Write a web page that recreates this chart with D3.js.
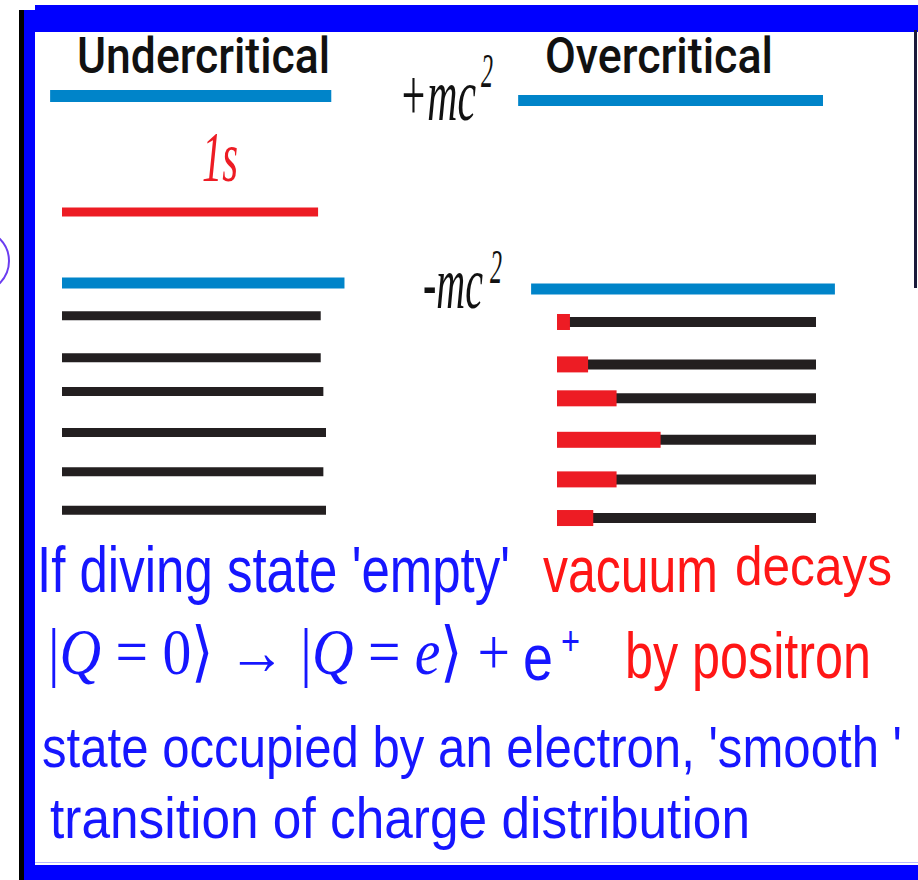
<!DOCTYPE html>
<html>
<head>
<meta charset="utf-8">
<title>Undercritical / Overcritical</title>
<script src="https://cdn.jsdelivr.net/npm/d3@7"></script>
<style>
  body { margin:0; background:#fff; }
  svg { display:block; }
</style>
</head>
<body>
<script>
// energies in units of mc^2
var boundNames = ["+mc2", "1s", "-mc2"];
var boundEnergy = [1, -0.24, -1];
var continuum = [-1.35, -1.80, -2.16, -2.60, -3.02, -3.43];
// right end of each undercritical continuum line (fraction of panel width)
var underEnds = [0.98, 0.98, 0.99, 1, 0.99, 1];
// part of each overcritical continuum line taken by positrons (red)
var positronFill = [0.05, 0.12, 0.23, 0.40, 0.23, 0.14];

var panelTitles = ["Undercritical", "Overcritical"];

var width = 918, height = 880;
var blue = "#0084c9", red = "#ed1c24", black = "#231f20",
    frameBlue = "#0000ff", textBlue = "#1616ff", textRed = "#ff1616";

var svg = d3.select("body").append("svg")
    .attr("width", width)
    .attr("height", height);

// frame
svg.append("circle").attr("cx", -22).attr("cy", 261).attr("r", 31)
    .attr("fill", "none").attr("stroke", "#6b3cf0").attr("stroke-width", 2);
svg.append("rect").attr("x", 19).attr("y", 10).attr("width", 5).attr("height", 870).attr("fill", "#000");
svg.append("rect").attr("x", 24).attr("y", 10).attr("width", 11).attr("height", 870).attr("fill", frameBlue);
svg.append("rect").attr("x", 35).attr("y", 5).attr("width", 883).attr("height", 27).attr("fill", frameBlue);
svg.append("rect").attr("x", 24).attr("y", 865).attr("width", 894).attr("height", 15).attr("fill", frameBlue);
svg.append("line").attr("x1", 35).attr("x2", 918).attr("y1", 862.5).attr("y2", 862.5)
    .attr("stroke", "#b8b8ff").attr("stroke-width", 1);
svg.append("line").attr("x1", 915.5).attr("x2", 915.5).attr("y1", 30).attr("y2", 288)
    .attr("stroke", "#1a1a3a").attr("stroke-width", 3);

// scales
var yL = d3.scaleLinear().domain([1, -1]).range([96, 283]);
var yR = d3.scaleLinear().domain([1, -1]).range([100.5, 289]);
var xL = d3.scaleLinear().domain([0, 1]).range([62, 326]);
var xR = d3.scaleLinear().domain([0, 1]).range([557, 816]);

function textFit(x, y, str, size, len, color, opts) {
  opts = opts || {};
  return svg.append("text")
      .attr("x", x).attr("y", y)
      .attr("font-family", opts.family || "'Liberation Sans', Arial, sans-serif")
      .attr("font-size", size)
      .attr("font-style", opts.italic ? "italic" : null)
      .attr("font-weight", opts.weight || null)
      .attr("fill", color)
      .attr("textLength", len)
      .attr("lengthAdjust", "spacingAndGlyphs")
      .text(str);
}

// titles
textFit(77, 73, panelTitles[0], 50, 253, "#111", {family: "Roboto, sans-serif", weight: 500});
textFit(545, 73, panelTitles[1], 50, 228, "#111", {family: "Roboto, sans-serif", weight: 500});

// undercritical bound levels
var underSpan = {"+mc2": [-0.045, 1.02], "1s": [0, 0.97], "-mc2": [0, 1.07]};
var underStyle = {"+mc2": [blue, 12], "1s": [red, 9], "-mc2": [blue, 11]};
svg.selectAll(".lvlL").data(boundNames).enter().append("line")
    .attr("class", "lvlL")
    .attr("x1", function(d) { return xL(underSpan[d][0]); })
    .attr("x2", function(d) { return xL(underSpan[d][1]); })
    .attr("y1", function(d, i) { return yL(boundEnergy[i]); })
    .attr("y2", function(d, i) { return yL(boundEnergy[i]); })
    .attr("stroke", function(d) { return underStyle[d][0]; })
    .attr("stroke-width", function(d) { return underStyle[d][1]; });

textFit(202, 181, "1s", 72, 36, red, {family: "'Liberation Serif', serif", italic: true});

// undercritical continuum
svg.selectAll(".contL").data(continuum).enter().append("line")
    .attr("class", "contL")
    .attr("x1", xL(0))
    .attr("x2", function(d, i) { return xL(underEnds[i]); })
    .attr("y1", function(d) { return yL(d); })
    .attr("y2", function(d) { return yL(d); })
    .attr("stroke", black).attr("stroke-width", 9);

// overcritical: only the two mc^2 edges
var overNames = [boundNames[0], boundNames[2]];
var overEnergy = [boundEnergy[0], boundEnergy[2]];
var overSpan = {"+mc2": [-0.15, 1.027], "-mc2": [-0.10, 1.073]};
svg.selectAll(".lvlR").data(overNames).enter().append("line")
    .attr("class", "lvlR")
    .attr("x1", function(d) { return xR(overSpan[d][0]); })
    .attr("x2", function(d) { return xR(overSpan[d][1]); })
    .attr("y1", function(d, i) { return yR(overEnergy[i]); })
    .attr("y2", function(d, i) { return yR(overEnergy[i]); })
    .attr("stroke", blue).attr("stroke-width", 11);

svg.selectAll(".contR").data(continuum).enter().append("line")
    .attr("class", "contR")
    .attr("x1", xR(0)).attr("x2", xR(1))
    .attr("y1", function(d) { return yR(d); })
    .attr("y2", function(d) { return yR(d); })
    .attr("stroke", black).attr("stroke-width", 10);

svg.selectAll(".hole").data(continuum).enter().append("rect")
    .attr("class", "hole")
    .attr("x", xR(0))
    .attr("y", function(d) { return yR(d) - 8; })
    .attr("width", function(d, i) { return xR(positronFill[i]) - xR(0); })
    .attr("height", 16)
    .attr("fill", red);

// mc^2 labels
var serif = "'Liberation Serif', 'Times New Roman', serif";
textFit(399, yR(1) + 19.5, "+mc", 74, 77, "#111", {family: serif, italic: true});
textFit(481, yR(1) - 13.5, "2", 48, 12, "#111", {family: serif, italic: true});
textFit(423, yR(-1) + 19, "-mc", 74, 60, "#111", {family: serif, italic: true});
textFit(490, yR(-1) - 6, "2", 48, 12, "#111", {family: serif, italic: true});

// explanation text
textFit(37, 592, "If diving state 'empty'", 64, 473, textBlue);
textFit(543, 592, "vacuum", 64, 175, textRed);
textFit(735, 585, "decays", 56, 157, textRed);

var math = svg.append("text")
    .attr("x", 48).attr("y", 674)
    .attr("font-family", serif)
    .attr("font-size", 66)
    .attr("fill", textBlue)
    .attr("textLength", 462)
    .attr("lengthAdjust", "spacingAndGlyphs");
[["|", 0], ["Q", 1], [" = 0\u27E9 \u2192 |", 0], ["Q", 1], [" = ", 0], ["e", 1], ["\u27E9 +", 0]]
  .forEach(function(p) {
    math.append("tspan").attr("font-style", p[1] ? "italic" : null).text(p[0]);
  });
textFit(523, 680, "e", 64, 30, textBlue);
textFit(561, 655, "+", 40, 19, textBlue);

textFit(625, 678, "by positron", 64, 246, textRed);
textFit(42, 767, "state occupied by an electron, 'smooth '", 58, 860, textBlue);
textFit(50, 838, "transition of charge distribution", 58, 700, textBlue);
</script>
</body>
</html>
